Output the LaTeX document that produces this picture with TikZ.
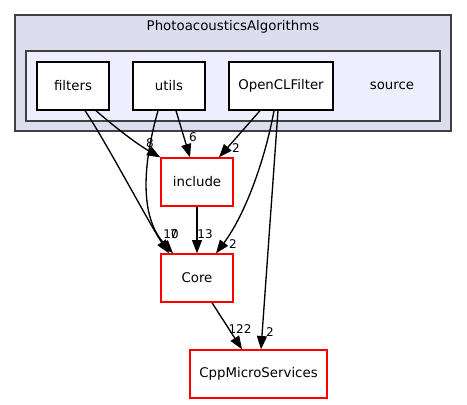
\documentclass[tikz,border=0pt]{standalone}
\usepackage{fontspec}
\setmainfont{DejaVu Sans}
\usetikzlibrary{arrows.meta,calc}
\definecolor{outerfill}{HTML}{DDDDEE}
\definecolor{innerfill}{HTML}{EEEEFF}
\definecolor{clusterline}{HTML}{404040}
\newcommand{\dirbox}[4]{%
 \node [dirbox, minimum width={#4}] ({#1}) at ({#2}) {{#3}};%
}
\newcommand{\extbox}[4]{%
 \node [dirbox, draw=red, minimum width={#4}] ({#1}) at ({#2}) {{#3}};%
}

\begin{document}
\begin{tikzpicture}[x=0.75pt,y=-0.75pt,
  dirbox/.style={draw=black,fill=white,line width=1pt,minimum height=36pt,inner sep=0pt,font=\fontsize{10}{12}\selectfont},
  cnt/.style={font=\fontsize{9}{10}\selectfont,inner sep=0pt},
  dep/.style={-{Triangle[length=10pt,width=7.5pt]},line width=1pt}]
  \useasboundingbox (0,0) rectangle (467,404);
  % clusters
  \draw [fill=outerfill,draw=clusterline,line width=1pt] (15,15) rectangle (451,131);
  \node (pa) [font=\fontsize{10}{12}\selectfont] at (233,27) {PhotoacousticsAlgorithms};
  \draw [fill=innerfill,draw=clusterline,line width=1pt] (26,51) rectangle (440,121);
  \node (src) [font=\fontsize{10}{12}\selectfont] at (392,86) {source};
  % directories
  \dirbox{filters}{73,86}{filters}{54pt};
  \dirbox{utils}{169,86}{utils}{54pt};
  \dirbox{ocl}{281,86}{OpenCLFilter}{78pt};
  \extbox{include}{197,182}{include}{54pt};
  \extbox{core}{197,278}{Core}{54pt};
  \extbox{cpp}{258.5,374}{CppMicroServices}{102.75pt};
  % dependencies
  \draw [dep] ($(filters.south)+(23,0)$) .. controls (110,123) and (135,143) .. (include.north west);
  \draw [dep] ($(filters.south)+(12,0)$) .. controls (105,140) and (150,225) .. ($(core.north)+(-28,0)$);
  \draw [dep] ($(utils.south)+(-11,0)$) .. controls (144,160) and (138,215) .. ($(core.north)+(-24,0)$);
  \draw [dep] ($(utils.south)+(7,0)$) -- ($(include.north)+(-7,0)$);
  \draw [dep] ($(ocl.south)+(-21,0)$) -- ($(include.north)+(22,0)$);
  \draw [dep] ($(ocl.south)+(-7,0)$) .. controls (265,160) and (245,215) .. ($(core.north)+(19,0)$);
  \draw [dep] ($(ocl.south)+(-3,0)$) -- ($(cpp.north)+(2.5,0)$);
  \draw [dep] (include) -- (core);
  \draw [dep] ($(core.south)+(15,0)$) -- ($(cpp.north)+(-16.5,0)$);
  % counts
  \node (n8) [cnt] at (150,143) {8};
  \node (n6) [cnt] at (193,137) {6};
  \node (n2a) [cnt] at (236,148) {2};
  \node (n10) [cnt] at (171,234) {10};
  \node (n7) [cnt] at (174,234) {7};
  \node (n13) [cnt] at (205,234) {13};
  \node (n2b) [cnt] at (233,244) {2};
  \node (n122) [cnt] at (240,329) {122};
  \node (n2c) [cnt] at (270,332) {2};
 \end{tikzpicture}
\end{document}
